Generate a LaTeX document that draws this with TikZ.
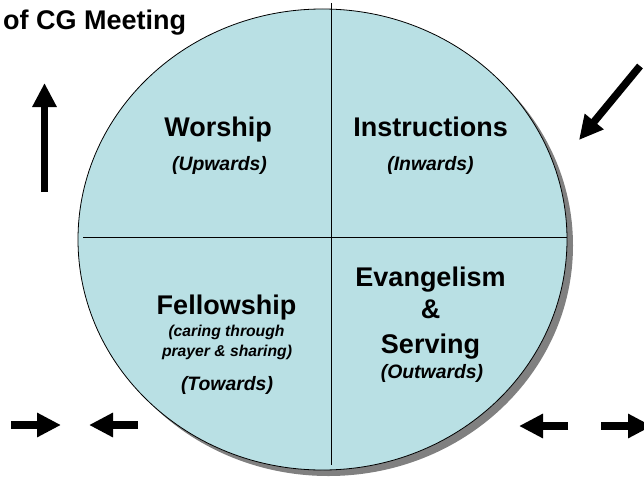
\documentclass[tikz,border=0pt]{standalone}
\usepackage{fontspec}
\setmainfont{Liberation Sans}
\usetikzlibrary{arrows.meta}
\definecolor{cgblue}{RGB}{185,224,228}
\tikzset{
    >={Triangle[length=24pt,width=23pt]}, % block arrow head
    blockarrow/.style={->,line width=7.5pt},
    heading/.style={anchor=base,inner sep=0pt,font=\bfseries\fontsize{27}{32}\selectfont},
    direction/.style={anchor=base,inner sep=0pt,font=\bfseries\itshape\fontsize{19.4}{23}\selectfont},
    remark/.style={anchor=base,inner sep=0pt,font=\bfseries\itshape\fontsize{15.7}{19}\selectfont}
}

\begin{document}
\begin{tikzpicture}[x=1pt,y=-1pt]
    \useasboundingbox (0,0) rectangle (644,476);
    \clip (0,0) rectangle (644,476);

    % circle and its shadow
    \fill[gray] (328.5,245.5) ellipse [x radius=244.5, y radius=230.5];
    \filldraw[fill=cgblue,draw=black,line width=0.8pt]
        (322.5,239.5) ellipse [x radius=244.5, y radius=230.5];
    \draw[line width=0.8pt] (331,3) -- (331,465);
    \draw[line width=0.8pt] (83,237) -- (567,237);

    \node[heading,anchor=base west] (title) at (3,30) {of CG Meeting};

    % quadrants
    \node[heading]   (worship)   at (218,136)   {Worship};
    \node[direction] (upwards)   at (219.5,170) {(Upwards)};
    \node[heading]   (instruct)  at (430.5,136) {Instructions};
    \node[direction] (inwards)   at (430.5,170) {(Inwards)};
    \node[heading]   (fellow)    at (226.5,314) {Fellowship};
    \node[remark]    (caring)    at (226.5,336) {(caring through};
    \node[remark]    (sharing)   at (227,356)   {prayer \& sharing)};
    \node[direction] (towards)   at (227,390)   {(Towards)};
    \node[heading]   (evangel)   at (430.5,286) {Evangelism};
    \node[heading]   (amp)       at (430.5,318) {\&};
    \node[heading]   (serving)   at (430.5,353) {Serving};
    \node[direction] (outwards)  at (432,378)   {(Outwards)};

    % direction arrows
    \draw[blockarrow] (44.5,192) -- (44.5,83);
    \draw[blockarrow] (640,66) -- (579,140);
    \draw[blockarrow] (11,425) -- (61,425);
    \draw[blockarrow] (138,425) -- (89,425);
    \draw[blockarrow] (568,426) -- (519,426);
    \draw[blockarrow] (601,426) -- (652,426);
\end{tikzpicture}
\end{document}
